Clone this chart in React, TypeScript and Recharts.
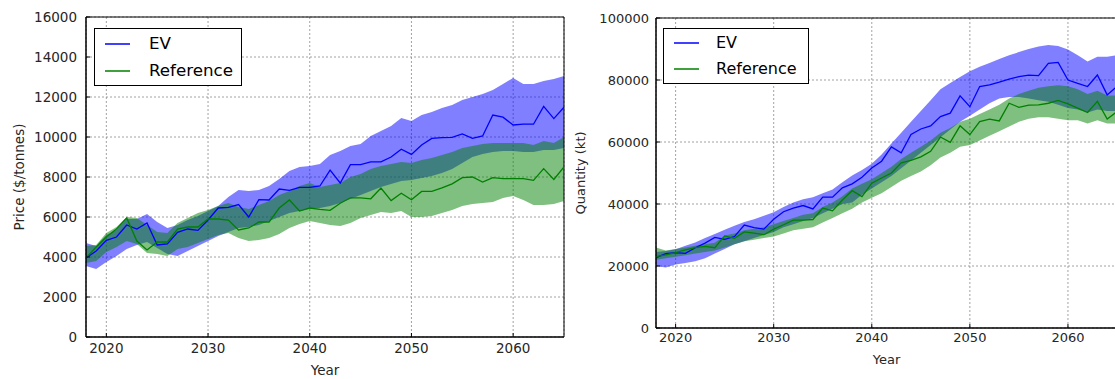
import {
  ComposedChart,
  Area,
  Line,
  XAxis,
  YAxis,
  CartesianGrid,
  ReferenceArea,
  Legend,
} from "recharts"

const years = [
  2018, 2019, 2020, 2021, 2022, 2023, 2024, 2025, 2026, 2027,
  2028, 2029, 2030, 2031, 2032, 2033, 2034, 2035, 2036, 2037,
  2038, 2039, 2040, 2041, 2042, 2043, 2044, 2045, 2046, 2047,
  2048, 2049, 2050, 2051, 2052, 2053, 2054, 2055, 2056, 2057,
  2058, 2059, 2060, 2061, 2062, 2063, 2064, 2065,
]
const xTicks = [2020, 2030, 2040, 2050, 2060]
const seriesNames = ["EV", "Reference"]

// price ($/tonnes)
const priceEv = [
  3950, 4300, 4830, 5000, 5600, 5400, 5700, 4600, 4650, 5230,
  5400, 5330, 5850, 6450, 6480, 6620, 6000, 6870, 6850, 7400,
  7330, 7480, 7480, 7550, 8340, 7700, 8620, 8620, 8760, 8760,
  9000, 9390, 9130, 9600, 9930, 9970, 9980, 10150, 9930, 10050,
  11100, 10990, 10600, 10640, 10640, 11530, 10920, 11490,
]
const priceEvHigh = [
  4700, 4550, 5100, 5350, 5900, 5900, 6150, 5750, 5450, 5600,
  5850, 6050, 6300, 6550, 7000, 7350, 7300, 7350, 7550, 7900,
  8300, 8500, 8550, 8650, 9100, 9300, 9550, 9650, 10050, 10300,
  10550, 10950, 10800, 11100, 11250, 11450, 11600, 11850, 12000, 12150,
  12350, 12650, 12950, 12650, 12650, 12800, 12900, 13050,
]
const priceEvLow = [
  3550, 3400, 3750, 4050, 4400, 4600, 4750, 4450, 4150, 4050,
  4300, 4550, 4800, 5050, 5250, 5450, 5500, 5600, 5800, 6000,
  6200, 6300, 6400, 6450, 6550, 6700, 6900, 7100, 7300, 7500,
  7650, 7800, 7850, 7950, 8050, 8200, 8400, 8700, 9000, 9150,
  9250, 9300, 9300, 9250, 9250, 9350, 9350, 9450,
]
const priceRef = [
  3950, 4500, 5000, 5400, 5950, 4800, 4350, 4750, 4750, 5400,
  5500, 5500, 5900, 5900, 5850, 5350, 5450, 5750, 5750, 6450,
  6850, 6300, 6450, 6380, 6330, 6690, 6960, 6960, 6910, 7450,
  6820, 7190, 6860, 7280, 7280, 7460, 7660, 7970, 8000, 7750,
  7970, 7920, 7920, 7920, 7830, 8420, 7880, 8500,
]
const priceRefHigh = [
  4550, 4600, 5200, 5500, 6000, 5950, 5600, 5250, 5200, 5700,
  5950, 6200, 6350, 6550, 6700, 6500, 6400, 6600, 6800, 7100,
  7300, 7550, 7700, 7500, 7600, 7700, 8000, 8150, 8400, 8550,
  8650, 8750, 8700, 8850, 8950, 9100, 9250, 9450, 9550, 9650,
  9700, 9700, 9700, 9700, 9600, 9800, 9700, 10000,
]
const priceRefLow = [
  3700, 3800, 4250, 4500, 4800, 4650, 4200, 4150, 4050, 4400,
  4500, 4700, 4900, 5100, 5200, 4950, 4800, 4850, 4950, 5150,
  5450, 5650, 5800, 5700, 5600, 5550, 5700, 5950, 6100, 6250,
  6200, 6300, 6000, 6000, 6050, 6200, 6350, 6550, 6650, 6700,
  6750, 6950, 7050, 6850, 6600, 6600, 6650, 6800,
]
const priceTicks = [0, 2000, 4000, 6000, 8000, 10000, 12000, 14000, 16000]

// quantity (kt)
const qtyEv = [
  22700, 24000, 24300, 24100, 25900, 27400, 29200, 28600, 29500, 33200,
  32400, 31900, 35100, 37500, 38700, 39500, 38400, 42200, 42200, 45200,
  46500, 48600, 51600, 53800, 58400, 56500, 62400, 64200, 65200, 68200,
  69300, 74900, 71400, 77900, 78400, 79300, 80300, 81100, 81600, 81400,
  85400, 85700, 80000, 78900, 77900, 81600, 75200, 77900,
]
const qtyEvHigh = [
  24500, 24800, 25400, 26500, 27600, 29000, 30300, 31700, 33000, 34200,
  35100, 36200, 37300, 39000, 40500, 41500, 42200, 43500, 44700, 47000,
  49200, 51000, 53000, 56000, 59500, 63000, 66500, 70000, 73500, 77000,
  79000, 81000, 82800, 84300, 85500, 86800, 88000, 89000, 90000, 90800,
  91300, 91000, 89800, 88000, 86000, 87500, 87500, 88000,
]
const qtyEvLow = [
  20000, 19500, 20500, 21000, 21500, 22500, 24000, 25500, 27000, 28000,
  29000, 30000, 31000, 32500, 33500, 34500, 35500, 37000, 38500, 40000,
  40500, 43000, 45000, 47000, 49000, 51500, 54000, 56500, 59000, 61500,
  64000, 66500, 68500, 70500, 72500, 74000, 74500, 74500, 74000, 73500,
  73000, 72000, 71000, 70500, 69500, 70500, 70000, 70000,
]
const qtyRef = [
  23000, 23600, 24300, 25200, 25900, 26300, 25900, 29700, 28900, 31000,
  30600, 30100, 31900, 33300, 34800, 34800, 35000, 38700, 37800, 41300,
  44300, 42400, 46700, 48400, 50000, 53300, 54100, 55200, 57000, 61600,
  59900, 65200, 62400, 66600, 67400, 66800, 72500, 71200, 71900, 72000,
  72500, 73400, 72300, 70900, 69500, 73100, 67400, 69800,
]
const qtyRefHigh = [
  26000, 25000, 25500, 26000, 26500, 27000, 27500, 29800, 30500, 31500,
  32000, 32500, 33500, 34500, 35500, 36500, 37000, 39000, 40500, 42500,
  45000, 46500, 48000, 50000, 52000, 54500, 56500, 58500, 60500, 63000,
  64500, 66500, 67500, 69000, 70500, 72000, 74000, 75500, 76500, 77500,
  78000, 78300, 78000, 77000, 75500, 76500, 75000, 75000,
]
const qtyRefLow = [
  22000, 22500, 23000, 23500, 24000, 24500, 25000, 26000, 27000, 28000,
  28500, 29000, 29500, 30500, 31500, 32000, 32500, 34000, 35500, 37000,
  38500, 40500, 42000, 43500, 45500, 47500, 49000, 50500, 52500, 55000,
  56500, 58500, 59000, 60500, 62000, 63500, 65000, 66500, 67500, 68000,
  68000, 67500, 67000, 67000, 66000, 67000, 66000, 66000,
]
const qtyTicks = [0, 20000, 40000, 60000, 80000, 100000]

const BLUE = "#0000ff"
const GREEN = "#008000"
const TEXT = "#262626"
const FONT = "'DejaVu Sans', sans-serif"

function buildRows(
  ev: number[], evLow: number[], evHigh: number[],
  ref: number[], refLow: number[], refHigh: number[],
) {
  return years.map((year, i) => ({
    year,
    ev: ev[i],
    evBand: [evLow[i], evHigh[i]],
    ref: ref[i],
    refBand: [refLow[i], refHigh[i]],
  }))
}

const priceRows = buildRows(priceEv, priceEvLow, priceEvHigh, priceRef, priceRefLow, priceRefHigh)
const qtyRows = buildRows(qtyEv, qtyEvLow, qtyEvHigh, qtyRef, qtyRefLow, qtyRefHigh)

interface LegendBoxProps {
  width: number
  height: number
  rowHeight: number
  fontSize: number
  textGap: number
}

function LegendBox({ width, height, rowHeight, fontSize, textGap }: LegendBoxProps) {
  const colors = [BLUE, GREEN]
  return (
    <div
      style={{
        boxSizing: "border-box",
        width,
        height,
        border: "1px solid #000",
        background: "#fff",
        paddingTop: 1,
        paddingLeft: 10,
        fontFamily: FONT,
        fontSize,
        color: "#000",
      }}
    >
      {seriesNames.map((name, i) => (
        <div key={name} style={{ display: "flex", alignItems: "center", height: rowHeight }}>
          <svg width={25} height={4} style={{ display: "block" }}>
            <line x1={0} x2={25} y1={2} y2={2} stroke={colors[i]} strokeWidth={1.5} />
          </svg>
          <span style={{ marginLeft: textGap, lineHeight: 1 }}>{name}</span>
        </div>
      ))}
    </div>
  )
}

interface PanelProps {
  rows: ReturnType<typeof buildRows>
  width: number
  height: number
  marginTop: number
  marginRight: number
  yWidth: number
  xHeight: number
  yMax: number
  yTicks: number[]
  yLabel: string
  yLabelOffset: number
  xLabelOffset: number
  fontSize: number
  xTickMargin: number
  yTickMargin: number
  legendLeft: number
  legendTop: number
  legend: LegendBoxProps
}

function Panel(p: PanelProps) {
  const tickStyle = { fontSize: p.fontSize, fill: TEXT, fontFamily: FONT }
  return (
    <ComposedChart
      width={p.width}
      height={p.height}
      data={p.rows}
      margin={{ top: p.marginTop, right: p.marginRight, left: 0, bottom: 0 }}
    >
      <XAxis
        dataKey="year"
        type="number"
        domain={[2018, 2065]}
        ticks={xTicks}
        interval={0}
        allowDataOverflow
        height={p.xHeight}
        tick={tickStyle}
        tickSize={-4}
        tickMargin={p.xTickMargin}
        tickLine={{ stroke: "#000" }}
        axisLine={{ stroke: "#000" }}
        label={{
          value: "Year",
          position: "insideBottom",
          offset: p.xLabelOffset,
          style: { fontSize: p.fontSize, fill: TEXT, fontFamily: FONT },
        }}
      />
      <YAxis
        type="number"
        domain={[0, p.yMax]}
        ticks={p.yTicks}
        interval={0}
        allowDataOverflow
        width={p.yWidth}
        tick={tickStyle}
        tickSize={-4}
        tickMargin={p.yTickMargin}
        tickLine={{ stroke: "#000" }}
        axisLine={{ stroke: "#000" }}
        label={{
          value: p.yLabel,
          angle: -90,
          position: "insideLeft",
          offset: p.yLabelOffset,
          style: { textAnchor: "middle", fontSize: p.fontSize, fill: TEXT, fontFamily: FONT },
        }}
      />
      <Area
        dataKey="evBand"
        type="linear"
        fill={BLUE}
        fillOpacity={0.5}
        stroke="none"
        isAnimationActive={false}
      />
      <Area
        dataKey="refBand"
        type="linear"
        fill={GREEN}
        fillOpacity={0.5}
        stroke="none"
        isAnimationActive={false}
      />
      <CartesianGrid stroke="#8a8a8a" strokeWidth={0.8} strokeDasharray="2 2" />
      <Line
        dataKey="ev"
        type="linear"
        stroke={BLUE}
        strokeWidth={1.3}
        dot={false}
        isAnimationActive={false}
      />
      <Line
        dataKey="ref"
        type="linear"
        stroke={GREEN}
        strokeWidth={1.3}
        dot={false}
        isAnimationActive={false}
      />
      <ReferenceArea
        x1={2018}
        x2={2065}
        y1={0}
        y2={p.yMax}
        fill="none"
        stroke="#000"
        strokeWidth={1}
      />
      <Legend
        layout="vertical"
        align="center"
        verticalAlign="middle"
        wrapperStyle={{
          left: p.legendLeft,
          top: p.legendTop,
          width: p.legend.width,
          height: p.legend.height,
        }}
        content={() => <LegendBox {...p.legend} />}
      />
    </ComposedChart>
  )
}

export default function App() {
  return (
    <div
      style={{
        position: "absolute",
        left: 0,
        top: 0,
        width: 1115,
        height: 379,
        overflow: "hidden",
        background: "#fff",
        fontFamily: FONT,
      }}
    >
      <div style={{ position: "absolute", left: 0, top: 0 }}>
        <Panel
          rows={priceRows}
          width={570}
          height={379}
          marginTop={17}
          marginRight={6}
          yWidth={86}
          xHeight={42}
          yMax={16000}
          yTicks={priceTicks}
          yLabel="Price ($/tonnes)"
          yLabelOffset={19}
          xLabelOffset={4}
          fontSize={13.5}
          xTickMargin={10}
          yTickMargin={13}
          legendLeft={94}
          legendTop={28}
          legend={{ width: 148, height: 58, rowHeight: 27, fontSize: 16.7, textGap: 19 }}
        />
      </div>
      <div style={{ position: "absolute", left: 570, top: 0 }}>
        <Panel
          rows={qtyRows}
          width={560}
          height={379}
          marginTop={18}
          marginRight={13}
          yWidth={86}
          xHeight={51}
          yMax={100000}
          yTicks={qtyTicks}
          yLabel="Quantity (kt)"
          yLabelOffset={10}
          xLabelOffset={15}
          fontSize={13}
          xTickMargin={9}
          yTickMargin={11}
          legendLeft={93}
          legendTop={28}
          legend={{ width: 146, height: 56, rowHeight: 26, fontSize: 16, textGap: 17 }}
        />
      </div>
    </div>
  )
}
